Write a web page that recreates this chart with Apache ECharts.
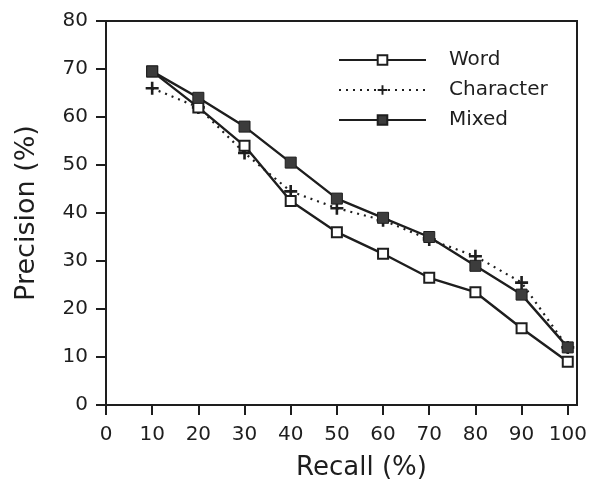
<!DOCTYPE html>
<html>
<head>
<meta charset="utf-8">
<script src="https://cdn.jsdelivr.net/npm/echarts@6/dist/echarts.min.js"></script>
</head>
<body style="margin:0;background:#fff">
<div id="container" style="width:590px;height:482px"></div>
<script>
// recall levels (%) on the x axis
var recall = [10, 20, 30, 40, 50, 60, 70, 80, 90, 100];
// precision (%) per indexing unit
var word = [69.5, 62, 54, 42.5, 36, 31.5, 26.5, 23.5, 16, 9];
var character = [66, 62, 52.5, 44.5, 41, 38.5, 34.5, 31, 25.5, 12];
var mixed = [69.5, 64, 58, 50.5, 43, 39, 35, 29, 23, 12];

var ink = '#1e1e1e';
var font = 'DejaVu Sans, sans-serif';
var plus = 'path://M4,0H6V4H10V6H6V10H4V6H0V4H4Z';

function pairs(ys) {
  return recall.map(function (x, i) { return [x, ys[i]]; });
}

var dom = document.getElementById('container');
var myChart = echarts.init(dom, null, { renderer: 'canvas' });

var option = {
  animation: false,
  grid: {
    left: 106, right: 13, top: 21, bottom: 77,
    outerBoundsMode: 'none',
    show: true, borderColor: ink, borderWidth: 2
  },
  legend: {
    left: 338, top: 50, orient: 'vertical', itemGap: 10, padding: 0,
    itemWidth: 87, itemHeight: 12,
    textStyle: { fontFamily: font, fontSize: 20, color: ink, padding: [0, 0, 0, 18] },
    data: ['Word', 'Character', 'Mixed']
  },
  xAxis: {
    type: 'value', min: 0, max: 102, interval: 10,
    name: 'Recall (%)', nameLocation: 'middle', nameGap: 50,
    nameTextStyle: { fontFamily: font, fontSize: 26, color: ink, padding: [0, 0, 0, 40] },
    axisLine: { lineStyle: { color: ink, width: 2 } },
    axisTick: { length: 10, lineStyle: { color: ink, width: 2 } },
    axisLabel: {
      fontFamily: font, fontSize: 20, color: ink, margin: 20,
      showMaxLabel: false,
      formatter: function (v) { return v % 10 === 0 ? v : ''; }
    },
    splitLine: { show: false }
  },
  yAxis: {
    type: 'value', min: 0, max: 80, interval: 10,
    name: 'Precision (%)', nameLocation: 'middle', nameGap: 66,
    nameTextStyle: { fontFamily: font, fontSize: 27, color: ink },
    axisLine: { lineStyle: { color: ink, width: 2 } },
    axisTick: { length: 10, lineStyle: { color: ink, width: 2 } },
    axisLabel: { fontFamily: font, fontSize: 20, color: ink, margin: 18 },
    splitLine: { show: false }
  },
  series: [
    {
      name: 'Word', type: 'line', data: pairs(word),
      symbol: 'rect', symbolSize: 10,
      lineStyle: { color: ink, width: 2.4 },
      itemStyle: { color: '#fff', borderColor: ink, borderWidth: 2 },
      z: 3
    },
    {
      name: 'Character', type: 'line', data: pairs(character),
      symbol: plus, symbolSize: 13,
      lineStyle: { color: ink, width: 2.2, type: [2, 5] },
      itemStyle: { color: ink },
      z: 2
    },
    {
      name: 'Mixed', type: 'line', data: pairs(mixed),
      symbol: 'rect', symbolSize: 11,
      lineStyle: { color: ink, width: 2.4 },
      itemStyle: { color: '#3c3c3c', borderColor: ink, borderWidth: 1 },
      z: 4
    }
  ]
};

myChart.setOption(option);
</script>
</body>
</html>
